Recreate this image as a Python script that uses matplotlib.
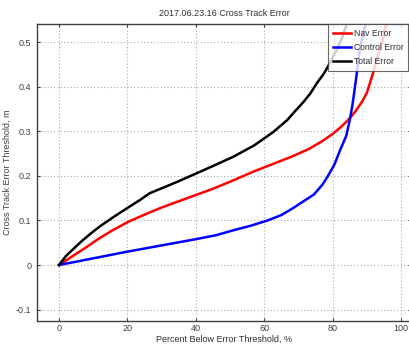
import matplotlib
matplotlib.use("Agg")
import matplotlib.pyplot as plt

plt.rcParams['font.family'] = ['Liberation Sans', 'DejaVu Sans']

# Data (percent below threshold, threshold in m)
nav_x = [0, 2, 5, 8, 11, 15, 20, 25, 30, 35, 40, 45, 51, 57, 63, 68, 73, 77, 80, 82.5, 84.5, 86.5, 88.5, 90, 91.8, 93, 94.5, 96.2]
nav_y = [0, 0.01, 0.025, 0.04, 0.056, 0.075, 0.096, 0.113, 0.129, 0.143, 0.157, 0.171, 0.19, 0.21, 0.228, 0.243, 0.26, 0.278, 0.294, 0.31, 0.325, 0.343, 0.365, 0.386, 0.43, 0.464, 0.5, 0.56]

ctrl_x = [0, 10, 20, 30, 40, 46, 51, 56, 61, 65, 68.5, 71.5, 74.5, 77, 78.5, 80.5, 82.2, 84, 85, 85.8, 87, 88, 89, 90.2]
ctrl_y = [0, 0.015, 0.03, 0.044, 0.058, 0.067, 0.078, 0.088, 0.1, 0.112, 0.128, 0.143, 0.158, 0.18, 0.198, 0.225, 0.258, 0.29, 0.325, 0.359, 0.426, 0.487, 0.52, 0.56]

tot_x = [0, 2, 5, 7, 9.5, 12, 16, 20, 23.5, 26.5, 30, 35, 40.3, 45, 51, 57, 62.6, 66.7, 69, 71.4, 73.5, 75.4, 77.5, 79.2, 81, 82.8, 85]
tot_y = [0, 0.02, 0.042, 0.056, 0.072, 0.087, 0.108, 0.128, 0.145, 0.161, 0.172, 0.188, 0.206, 0.222, 0.243, 0.268, 0.298, 0.325, 0.345, 0.365, 0.385, 0.408, 0.43, 0.453, 0.48, 0.51, 0.56]

labels = ['Nav Error', 'Control Error', 'Total Error']
colors = ['#ff0000', '#0000ff', '#000000']

fig = plt.figure(figsize=(4.09, 3.46), dpi=100)
ax = fig.add_axes([36.8/409, 25.25/346, 374.5/409, 296.5/346])

for xs, ys, lab, c in zip([nav_x, ctrl_x, tot_x], [nav_y, ctrl_y, tot_y], labels, colors):
    ax.plot(xs, ys, color=c, lw=1.8, label=lab)

ax.set_xlim(-6.5, 103)
ax.set_ylim(-0.125, 0.54)
ax.set_xticks([0, 20, 40, 60, 80, 100])
ax.set_yticks([-0.1, 0, 0.1, 0.2, 0.3, 0.4, 0.5])
ax.set_yticklabels(['-0.1', '0', '0.1', '0.2', '0.3', '0.4', '0.5'])
ax.grid(True, linestyle=(0, (1, 2)), color='#aaaaaa', lw=0.8)
ax.tick_params(labelsize=6.5, colors='#404040', length=2, direction='in', top=True, right=True, pad=2.5)
ax.tick_params(axis='y', pad=4)
for s in ax.spines.values():
    s.set_color('#404040')
    s.set_linewidth(1.0)

ax.set_title('2017.06.23.16 Cross Track Error', fontsize=6.5, color='#303030', pad=6)
ax.set_xlabel('Percent Below Error Threshold, %', fontsize=6.5, color='#303030', labelpad=1)
ax.set_ylabel('Cross Track Error Threshold, m', fontsize=6.5, color='#404040', labelpad=3)

leg = ax.legend(loc='upper right', fontsize=6.2, frameon=True, fancybox=False,
                edgecolor='#404040', borderaxespad=0.0, handlelength=2.1,
                handletextpad=0.3, labelspacing=0.6, borderpad=0.55,
                bbox_to_anchor=((408 - 36.8) / 374.5, 1.0))
leg.get_frame().set_linewidth(0.8)
for t in leg.get_texts():
    t.set_color('#303030')

fig.savefig('out.png', dpi=100)
